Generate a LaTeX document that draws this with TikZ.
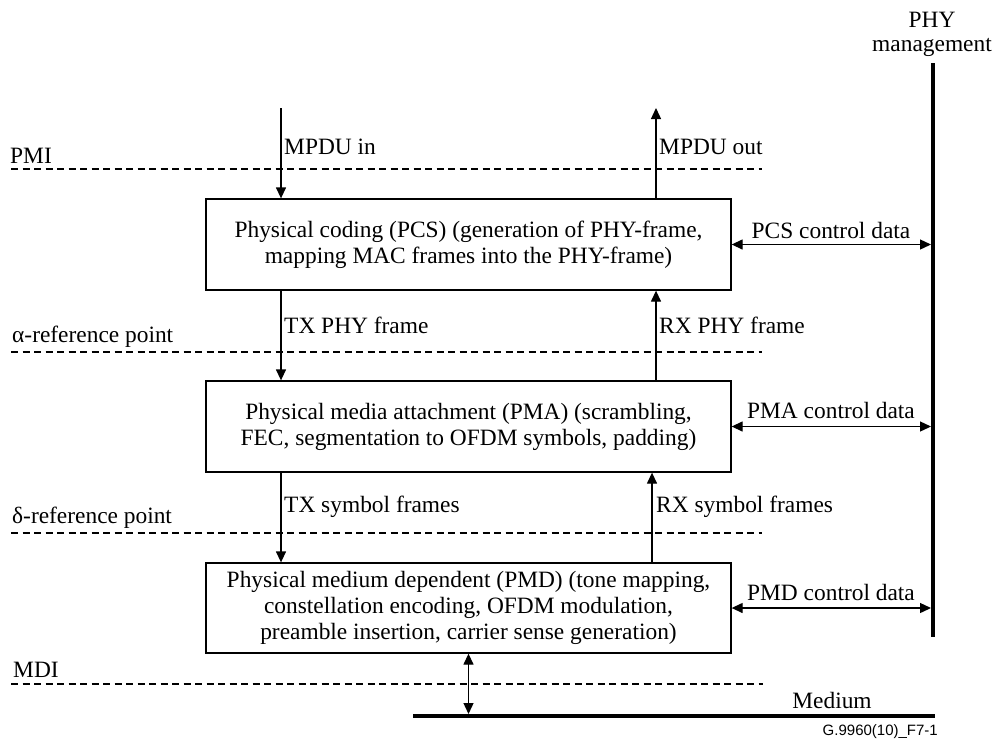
\documentclass[tikz,border=0pt]{standalone}
\usepackage{fontspec}
\setmainfont{Liberation Serif}
\newfontfamily\labsans{Liberation Sans}
\usetikzlibrary{arrows.meta}
\begin{document}
\begin{tikzpicture}[x=1pt,y=-1pt,
  txt/.style={font=\fontsize{23.4}{26}\selectfont, inner sep=0pt},
  blk/.style={draw, line width=1.3pt, minimum width=525pt, minimum height=91pt, align=center, txt},
  flow/.style={line width=1.3pt, -{Triangle[length=11pt,width=10pt]}},
  both/.style={line width=1.3pt, {Triangle[length=11pt,width=10pt]}-{Triangle[length=11pt,width=10pt]}},
  refline/.style={line width=1.2pt, dash pattern=on 7pt off 4.5pt},
  heavy/.style={line width=4pt},
  lab/.style={txt, anchor=base west},
  clab/.style={txt, anchor=base},
]
\useasboundingbox (0,0) rectangle (995,745);

% blocks
\node[blk] (pcs) at (468.5,244.5) {Physical coding (PCS) (generation of PHY-frame,\\mapping MAC frames into the PHY-frame)};
\node[blk] (pma) at (468.5,426.5) {Physical media attachment (PMA) (scrambling,\\FEC, segmentation to OFDM symbols, padding)};
\node[blk, minimum height=90pt] (pmd) at (468.5,608) {Physical medium dependent (PMD) (tone mapping,\\constellation encoding, OFDM modulation,\\preamble insertion, carrier sense generation)};

% coordinates
\coordinate (bartop) at (933,63);
\coordinate (barbot) at (933,637);
\coordinate (medL) at (413,716);
\coordinate (medR) at (935,716);
\coordinate (inTop) at (281,108);
\coordinate (outTop) at (656,108);
\coordinate (rxs) at (652,533);
\coordinate (pmiL) at (11,169);  \coordinate (pmiR) at (762,169);
\coordinate (alL) at (11,352);   \coordinate (alR) at (762,352);
\coordinate (deL) at (11,533);   \coordinate (deR) at (762,533);
\coordinate (mdiL) at (11,684);  \coordinate (mdiR) at (763,684);

% reference lines
\draw[refline] (pmiL) -- (pmiR);
\draw[refline] (alL) -- (alR);
\draw[refline] (deL) -- (deR);
\draw[refline] (mdiL) -- (mdiR);

% heavy bars
\draw[heavy] (bartop) -- (barbot);
\draw[heavy] (medL) -- (medR);

% data flow arrows
\draw[flow] (inTop) -- (inTop |- pcs.north);
\draw[flow] (pcs.north -| outTop) -- (outTop);
\draw[flow] (pcs.south -| inTop) -- (inTop |- pma.north);
\draw[flow] (pma.north -| outTop) -- (outTop |- pcs.south);
\draw[flow] (pma.south -| inTop) -- (inTop |- pmd.north);
\draw[flow] (pmd.north -| rxs) -- (rxs |- pma.south);
\draw[both, shorten >=2pt] (pmd.south) -- (pmd.south |- medL);

% control arrows
\draw[both, shorten >=2pt] (pcs.east) -- (pcs.east -| bartop);
\draw[both, shorten >=2pt] (pma.east) -- (pma.east -| bartop);
\draw[both, shorten >=2pt] (pmd.east) -- (pmd.east -| bartop);

% labels
\node[lab] (lpmi) at (10,163) {PMI};
\node[lab] (lal) at (12,342) {α-reference point};
\node[lab] (lde) at (12,523) {δ-reference point};
\node[lab] (lmdi) at (13,677) {MDI};
\node[lab] (lin) at (284,154) {MPDU in};
\node[lab] (lout) at (659,154) {MPDU out};
\node[lab] (ltxp) at (284,333) {TX PHY frame};
\node[lab] (lrxp) at (659,333) {RX PHY frame};
\node[lab] (ltxs) at (284,512) {TX symbol frames};
\node[lab] (lrxs) at (656,512) {RX symbol frames};
\node[clab] (lpcs) at (831,238) {PCS control data};
\node[clab] (lpma) at (831,418) {PMA control data};
\node[clab] (lpmd) at (831,600) {PMD control data};
\node[clab] (lphy) at (932,27) {PHY};
\node[clab] (lmgmt) at (932,51) {management};
\node[clab] (lmed) at (832,708) {Medium};
\node[anchor=base east, inner sep=0pt, font=\labsans\fontsize{15}{18}\selectfont] (lfig) at (938,735) {G.9960(10)\_F7-1};
\end{tikzpicture}
\end{document}
